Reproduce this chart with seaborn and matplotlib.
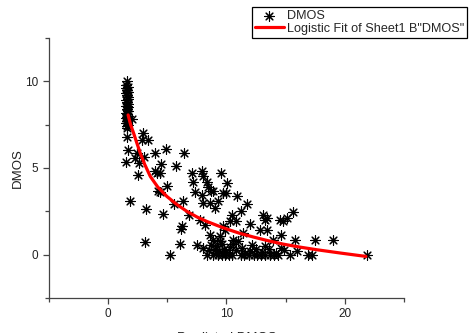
import numpy as np
import pandas as pd
import seaborn as sns
import matplotlib
matplotlib.use('Agg')
import matplotlib.pyplot as plt
from matplotlib.ticker import MultipleLocator

# scatter points: predicted DMOS vs DMOS
pred = [1.60, 1.55, 1.65, 1.58, 1.70, 1.52, 1.62, 1.68, 1.55, 1.60, 1.72, 1.50, 1.64, 1.57,
        1.69, 1.53, 1.61, 1.66, 1.55, 1.71, 1.59, 1.50, 1.65, 1.57, 1.62, 1.53, 1.67, 1.59, 1.62,
        2.0, 1.6, 1.7, 1.55, 2.95, 2.87, 3.37, 2.44, 2.3, 2.58, 3.06, 2.53, 1.88,
        3.99, 4.92, 6.38, 5.73, 4.49, 4.13, 4.35, 3.93, 4.97, 4.19, 4.35, 3.23, 4.63, 5.53, 6.32,
        3.15, 6.1, 6.24, 6.18, 6.85, 7.08, 7.16, 7.36, 7.95, 8.06, 8.34, 8.48, 8.68, 8.9,
        8.06, 7.92, 8.62, 9.04, 9.33, 9.52, 10.03, 9.69, 9.97, 10.87, 11.71, 11.2, 10.45, 10.3,
        10.81, 7.78, 8.2, 7.5, 8.06, 8.62, 8.9, 9.47, 9.69, 9.89, 10.59, 11.01, 11.43, 11.99,
        12.84, 13.12, 13.4, 13.4, 13.26, 13.96, 14.52, 14.75, 14.66, 15.1, 15.65, 15.79, 17.47, 19.0,
        5.2, 8.4, 8.9, 9.3, 9.6, 9.9, 10.2, 10.5, 11.2, 11.5, 11.9, 12.3, 12.6, 12.9, 13.3,
        13.7, 14.0, 14.4, 15.4, 16.9, 17.2, 21.9,
        9.0, 9.2, 9.4, 9.6, 9.8, 10.0, 9.5, 9.1, 10.3, 10.8, 11.3, 12.0, 12.5, 13.0, 13.6,
        14.2, 14.6, 8.7, 8.5, 10.6, 11.6, 12.2, 13.3, 14.9, 16.0]
dmos = [10.0, 9.8, 9.7, 9.5, 9.4, 9.3, 9.2, 9.0, 8.9, 8.8, 8.7, 8.6, 8.5, 8.4,
        8.3, 8.2, 8.1, 8.0, 7.9, 7.8, 7.7, 7.6, 7.5, 7.4, 7.3, 9.6, 9.1, 8.55, 7.95,
        7.8, 6.8, 6.05, 5.37, 7.0, 6.6, 6.6, 5.85, 5.57, 5.28, 5.66, 4.6, 3.1,
        5.85, 6.08, 5.89, 5.09, 5.24, 4.70, 4.70, 4.8, 3.99, 3.70, 3.59, 2.63, 2.34, 2.94, 3.07,
        0.73, 0.61, 1.63, 1.48, 2.28, 4.70, 4.17, 3.59, 4.84, 4.51, 4.22, 3.93, 3.65, 3.65,
        2.97, 3.45, 2.97, 2.69, 3.07, 4.70, 4.13, 3.55, 3.55, 3.40, 2.94, 2.50, 2.30, 1.92,
        1.92, 2.02, 1.73, 0.58, 0.38, 1.15, 0.86, 1.06, 1.63, 1.44, 0.86, 0.77, 1.25, 1.79,
        1.44, 2.30, 2.11, 1.44, 2.0, 0.86, 2.02, 1.92, 1.15, 2.11, 2.44, 0.86, 0.86, 0.86,
        0.0, 0.0, 0.0, 0.0, 0.0, 0.0, 0.0, 0.0, 0.0, 0.0, 0.0, 0.0, 0.0, 0.0, 0.0,
        0.0, 0.0, 0.0, 0.0, 0.0, 0.0, 0.0,
        0.3, 0.5, 0.2, 0.6, 0.35, 0.15, 0.8, 0.1, 0.45, 0.25, 0.4, 0.2, 0.35, 0.15, 0.3,
        0.1, 0.4, 0.55, 0.25, 0.6, 0.1, 0.55, 0.5, 0.25, 0.2]

# logistic fit curve
fit_x = [1.69, 1.9, 2.16, 2.4, 2.72, 3.1, 3.57, 4.2, 4.97, 5.8, 6.66, 7.5, 8.34,
         9.2, 10.03, 11.1, 12.28, 13.5, 14.8, 16.2, 17.6, 19.7, 21.8]
fit_y = [8.06, 7.5, 7.0, 6.5, 5.85, 5.2, 4.51, 3.9, 3.36, 2.9, 2.50, 2.18, 1.92,
         1.69, 1.48, 1.24, 1.02, 0.81, 0.61, 0.44, 0.29, 0.09, -0.1]

sns.set_style("ticks")
plt.rcParams['font.family'] = ['Liberation Sans', 'DejaVu Sans']
plt.rcParams['font.size'] = 8.5

fig = plt.figure(figsize=(4.73, 3.33), dpi=100)
ax = fig.add_axes([0.1036, 0.105, 0.75, 0.781])

df = pd.DataFrame({'Predicted DMOS': pred, 'DMOS': dmos})
sns.scatterplot(data=df, x='Predicted DMOS', y='DMOS', ax=ax, marker=(8, 2, 0),
                s=48, color='black', linewidth=0.8, label='DMOS')
fit = pd.DataFrame({'x': fit_x, 'y': fit_y})
sns.lineplot(data=fit, x='x', y='y', ax=ax, color='red', linewidth=2.3,
             label='Logistic Fit of Sheet1 B"DMOS"')

ax.set_xlim(-5, 25)
ax.set_ylim(-2.5, 12.5)
ax.xaxis.set_major_locator(MultipleLocator(10))
ax.xaxis.set_minor_locator(MultipleLocator(5))
ax.yaxis.set_major_locator(MultipleLocator(5))
ax.yaxis.set_minor_locator(MultipleLocator(2.5))
ax.tick_params(which='major', length=4, width=0.9, color='#444444', labelcolor='#222222')
ax.tick_params(which='minor', length=3, width=0.9, color='#444444')
for s in ['left', 'bottom']:
    ax.spines[s].set_color('#444444')
    ax.spines[s].set_linewidth(0.9)
sns.despine(ax=ax)
ax.set_xlabel('Predicted DMOS', fontsize=9.5, color='#222222', labelpad=8)
ax.set_ylabel('DMOS', fontsize=9.5, color='#222222', labelpad=1)

ax.legend(loc='upper left', bbox_to_anchor=(0.533, 0.979), bbox_transform=fig.transFigure,
          frameon=True, fancybox=False, edgecolor='black', framealpha=1, fontsize=9.1,
          borderpad=0.25, labelspacing=0.05, handlelength=2.25, handletextpad=0.25,
          borderaxespad=0)
ax.get_legend().get_frame().set_linewidth(0.9)

fig.savefig('out.png', dpi=100)
